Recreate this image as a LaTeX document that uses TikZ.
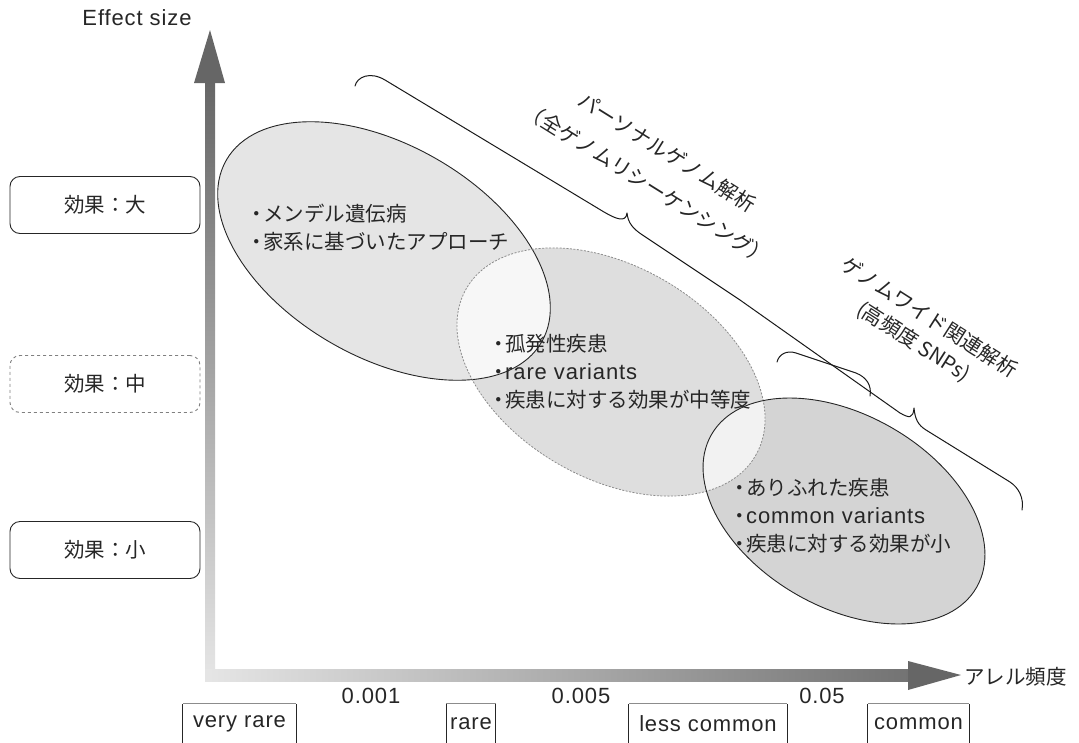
\documentclass[tikz,border=0pt]{standalone}
\usepackage{fontspec}
\setmainfont{Liberation Sans}[LetterSpace=4]
\newfontfamily\jp{Noto Sans CJK JP}
\newcommand\bul{\makebox[13pt][c]{\jp ・}}
\begin{document}
\begin{tikzpicture}[x=1pt,y=-1pt,
  jtxt/.style={font=\jp\fontsize{20.5}{28}\selectfont, inner sep=0pt, text=black!85},
  ltxt/.style={font=\fontsize{22}{26}\selectfont, inner sep=0pt, text=black!85},
  lvlbox/.style={draw=black!85, rounded corners=10pt, minimum width=190pt, minimum height=57pt, line width=0.9pt, jtxt},
  freqbox/.style={ltxt, minimum height=40pt},
  bracepath/.style={draw=black!90, line width=1pt, line join=round, line cap=round},
  ellout/.style={draw=black!85, line width=0.9pt},
  headfill/.style={fill=black!60},
]
\useasboundingbox (0,0) rectangle (1079,742);

% ---- ellipses (fills) ----
\fill[black!10] (384,251) ellipse [x radius=182pt, y radius=106pt, rotate=-30];
\fill[black!13] (611,372) ellipse [x radius=167pt, y radius=106pt, rotate=-30];
\begin{scope}
  \clip (384,251) ellipse [x radius=182pt, y radius=106pt, rotate=-30];
  \fill[black!3] (611,372) ellipse [x radius=167pt, y radius=106pt, rotate=-30];
\end{scope}
\fill[black!17] (844,511) ellipse [x radius=153pt, y radius=96pt, rotate=-30];
\begin{scope}
  \clip (611,372) ellipse [x radius=167pt, y radius=106pt, rotate=-30];
  \fill[black!5] (844,511) ellipse [x radius=153pt, y radius=96pt, rotate=-30];
\end{scope}
% ---- ellipse outlines ----
\draw[ellout] (384,251) ellipse [x radius=182pt, y radius=106pt, rotate=-30];
\draw[draw=black!45, line width=0.8pt, dash pattern=on 2pt off 1.5pt] (611,372) ellipse [x radius=167pt, y radius=106pt, rotate=-30];
\draw[ellout] (844,511) ellipse [x radius=153pt, y radius=96pt, rotate=-30];

% ---- axes ----
\coordinate (ytip) at (210,30);
\coordinate (xtip) at (961,675);
\shade[top color=black!60, bottom color=black!10] (205,80) rectangle (215,678);
\fill[headfill] (194,83) -- (ytip) -- (225,83) -- cycle;
\shade[left color=black!10, right color=black!55] (205,669) rectangle (910,681);
\fill[headfill] (908,661) -- (xtip) -- (908,690) -- cycle;

\node[ltxt] (ylab) at (137,18) {Effect size};
\node[jtxt, anchor=west] (xlab) at (964,677) {アレル頻度};

% ---- effect level boxes ----
\node[lvlbox] (big) at (105,205) {効果：大};
\node[lvlbox, draw=black!50, dashed] (mid) at (105,384) {効果：中};
\node[lvlbox] (small) at (105,550) {効果：小};

% ---- frequency boxes ----
\node[freqbox, minimum width=113pt] (vr) at (239.5,724) {very rare};
\node[freqbox, minimum width=49pt] (r) at (471,724) {rare};
\node[freqbox, minimum width=158pt] (lc) at (708,724) {less common};
\node[freqbox, minimum width=101pt] (cm) at (918.5,724) {common};
\foreach \b in {vr,r,lc,cm}{
  \draw[black!85, line width=0.8pt] (\b.south west) -- (\b.north west);
  \draw[black!85, line width=0.8pt] (\b.north east) -- (\b.south east);
  \draw[black!45, line width=0.7pt] (\b.north west) -- (\b.north east);
}
\node[ltxt] (t1) at (371,696) {0.001};
\node[ltxt] (t2) at (581,696) {0.005};
\node[ltxt] (t3) at (822,696) {0.05};

% ---- ellipse texts ----
\node[jtxt, anchor=west, align=left] (e1t) at (250,228)
  {\bul メンデル遺伝病\\\bul 家系に基づいたアプローチ};
\node[jtxt, anchor=west, align=left] (e2t) at (492,372)
  {\bul 孤発性疾患\\\bul {\rmfamily\fontsize{22}{28}\selectfont rare variants}\\\bul 疾患に対する効果が中等度};
\node[jtxt, anchor=west, align=left] (e3t) at (733,516)
  {\bul ありふれた疾患\\\bul {\rmfamily\fontsize{22}{28}\selectfont common variants}\\\bul 疾患に対する効果が小};

% ---- braces ----
\draw[bracepath] (355,86) .. controls (357,77) and (370,71) .. (385,80)
  -- (604,212) .. controls (616,219) and (626,223) .. (627,213)
  .. controls (628,223) and (633,229) .. (644,236)
  -- (740,300) -- (900,413) .. controls (909,418) and (913,419) .. (914,408)
  .. controls (915,419) and (918,425) .. (926,430)
  -- (1010,482) .. controls (1019,488) and (1024,498) .. (1022,510);
\draw[bracepath] (777,362) .. controls (779,354) and (787,350) .. (796,353)
  -- (856,373) .. controls (866,377) and (872,385) .. (870,396);

% ---- rotated labels ----
\node[jtxt, font=\jp\fontsize{20.5}{37}\selectfont, rotate=-32, align=center] (pg) at (657,168)
  {パーソナルゲノム解析\\（全ゲノムリシーケンシング）};
\node[jtxt, font=\jp\fontsize{20.5}{29}\selectfont, rotate=-32.5, align=center] (gw) at (921,330)
  {ゲノムワイド関連解析\\(高頻度 SNPs)};
\end{tikzpicture}
\end{document}
